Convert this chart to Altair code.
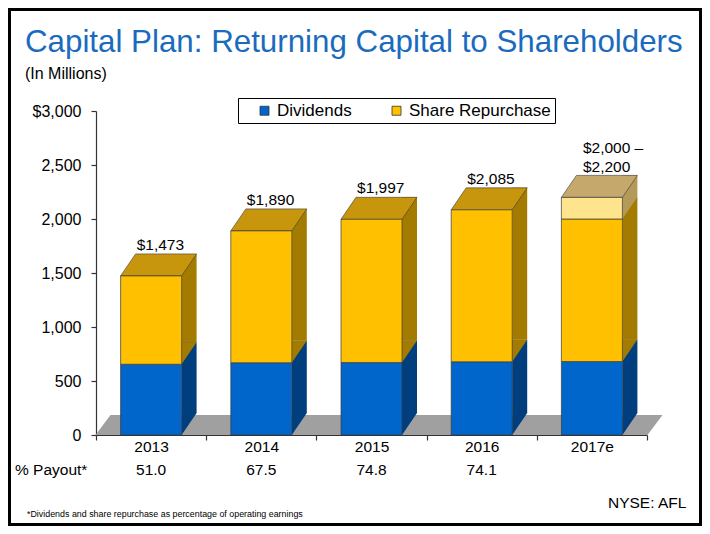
import altair as alt
import pandas as pd

# ---------------- data ----------------
years = ["2013", "2014", "2015", "2016", "2017e"]
series = ["Dividends", "Share Repurchase", "Range"]
dividends = [655, 669, 671, 678, 680]
repurchase = [818, 1221, 1326, 1407, 1320]
range_extra = [0, 0, 0, 0, 200]
total_labels = ["$1,473", "$1,890", "$1,997", "$2,085", ""]
estimate_label_lines = ["$2,000 –", "$2,200"]
payout = ["51.0", "67.5", "74.8", "74.1", ""]
y_tick_values = [0, 500, 1000, 1500, 2000, 2500, 3000]
y_tick_labels = ["0", "500", "1,000", "1,500", "2,000", "2,500", "$3,000"]
legend_items = ["Dividends", "Share Repurchase"]

title_text = "Capital Plan: Returning Capital to Shareholders"
subtitle_text = "(In Millions)"
payout_title = "% Payout*"
footnote_text = "*Dividends and share repurchase as percentage of operating earnings"
ticker_text = "NYSE: AFL"

# ---------------- styles ----------------
FONT = "Liberation Sans"
FRONT = {"Dividends": "#0066CC", "Share Repurchase": "#FFC000", "Range": "#FFE48E"}
SIDE = {"Dividends": "#003E7E", "Share Repurchase": "#A37B00", "Range": "#B39A58"}
TOP = {"Dividends": "#1F5FA8", "Share Repurchase": "#C8960C", "Range": "#C4A86C"}
TITLE_BLUE = "#1A6BBE"
AXIS_COL = "#333333"

W, H = 551, 324
DX, DY = 15, 22          # depth of the 3D bars (px)
FRONT_W = 61
FDX, FDY = 15, 20        # depth of the floor (px)
BAND = W / len(years)

half = FRONT_W / 2
TOP_PATH = f"M{-half},0L{half},0L{half + DX},{-DY}L{-half + DX},{-DY}Z"
TRI_PATH = f"M{half},{-DY}L{half},0L{half + DX},{-DY}Z"
hb = BAND / 2 + 0.5
FLOOR_PATH = f"M{-hb},0L{hb},0L{hb + FDX},{-FDY}L{-hb + FDX},{-FDY}Z"

# ---------------- tables ----------------
seg_rows, top_rows = [], []
for i, yr in enumerate(years):
    base = 0
    last = None
    for s, vals in zip(series, [dividends, repurchase, range_extra]):
        v = vals[i]
        if v <= 0:
            continue
        seg_rows.append(dict(year=yr, series=s, bottom=base, top=base + v, side=SIDE[s]))
        base += v
        last = s
    top_rows.append(dict(year=yr, total=base, topcol=TOP[last], label=total_labels[i]))
seg = pd.DataFrame(seg_rows)
tops = pd.DataFrame(top_rows)
year_df = pd.DataFrame({"year": years, "payout": payout, "zero": [0] * len(years)})
est_df = pd.DataFrame({"year": [years[-1]], "total": [tops["total"].iloc[-1]]})
meta = pd.DataFrame({"k": [0]})

label_expr = " : ".join(
    f"datum.value == {v} ? '{l}'" for v, l in zip(y_tick_values, y_tick_labels)
) + " : ''"

xs = alt.Scale(domain=years, paddingInner=0, paddingOuter=0)
ys = alt.Scale(domain=[0, 3000], nice=False, zero=True)
x_axis = alt.Axis(title=None, labelAngle=0, tickBand="extent", labelFontSize=15.5,
                  labelFont=FONT, labelColor="black", labelPadding=-1, tickSize=5,
                  domainColor=AXIS_COL, tickColor=AXIS_COL, domainWidth=1.2, tickWidth=1.2,
                  grid=False)
y_axis = alt.Axis(title=None, values=y_tick_values, labelExpr=label_expr, grid=False,
                  tickSize=5, labelPadding=10, labelFontSize=16, labelFont=FONT,
                  labelColor="black", domainColor=AXIS_COL, tickColor=AXIS_COL,
                  domainWidth=1.2, tickWidth=1.2)
X = alt.X("year:N", scale=xs, sort=years, axis=x_axis)


def Y(field):
    return alt.Y(field, scale=ys, axis=y_axis)


# ---------------- layers ----------------
border = alt.Chart(meta).mark_rect(color="white", fillOpacity=0, stroke="black", strokeWidth=3).encode(
    x=alt.value(-86.5), x2=alt.value(604.5), y=alt.value(-101.5), y2=alt.value(413.5)
)

floor = alt.Chart(year_df).mark_point(
    shape=FLOOR_PATH, size=4, filled=True, opacity=1, color="#A0A0A0", strokeWidth=0
).encode(x=X, y=Y("zero:Q"))

side = alt.Chart(seg).mark_bar(width=DX, xOffset=half + DX / 2, yOffset=-DY, y2Offset=-DY).encode(
    x=X, y=Y("top:Q"), y2="bottom:Q",
    color=alt.Color("side:N", scale=None),
)

tri = alt.Chart(seg).mark_point(shape=TRI_PATH, size=4, filled=True, opacity=1, strokeWidth=0).encode(
    x=X, y=Y("bottom:Q"), color=alt.Color("side:N", scale=None)
)

topface = alt.Chart(tops).mark_point(
    shape=TOP_PATH, size=4, filled=True, opacity=1, stroke="#3a3a3a", strokeWidth=0.6
).encode(x=X, y=Y("total:Q"), fill=alt.Fill("topcol:N", scale=None))

front = alt.Chart(seg).mark_bar(width=FRONT_W, stroke="#3a3a3a", strokeWidth=0.7, opacity=1).encode(
    x=X,
    y=Y("top:Q"),
    y2="bottom:Q",
    color=alt.Color(
        "series:N",
        scale=alt.Scale(domain=series, range=[FRONT[s] for s in series]),
        legend=alt.Legend(
            values=legend_items, title=None, orient="none", legendX=142, legendY=-13,
            direction="horizontal", labelFontSize=17, labelFont=FONT, labelColor="black",
            symbolType="square", symbolSize=81, symbolStrokeColor="#333333",
            symbolStrokeWidth=0.8, symbolOpacity=1, strokeColor="black", fillColor="white",
            padding=4, columnPadding=22, labelOffset=4, symbolOffset=14,
            labelExpr="datum.label == 'Share Repurchase' ? 'Share Repurchase\u00a0' : datum.label",
        ),
    ),
    order=alt.Order("bottom:Q"),
)

val_labels = alt.Chart(tops[tops["label"] != ""]).mark_text(
    dx=half / 2 - 6, dy=-26, fontSize=15.5, font=FONT, color="black", baseline="alphabetic"
).encode(x=X, y=Y("total:Q"), text="label:N")

est1 = alt.Chart(est_df).mark_text(
    text=estimate_label_lines[0], align="left", dx=-9, dy=-44, fontSize=15.5, font=FONT,
    color="black", baseline="alphabetic"
).encode(x=X, y=Y("total:Q"))
est2 = alt.Chart(est_df).mark_text(
    text=estimate_label_lines[1], align="left", dx=-9, dy=-25, fontSize=15.5, font=FONT,
    color="black", baseline="alphabetic"
).encode(x=X, y=Y("total:Q"))

payout_vals = alt.Chart(year_df[year_df["payout"] != ""]).mark_text(
    fontSize=15.5, font=FONT, color="black", baseline="alphabetic"
).encode(x=X, y=alt.value(364), text="payout:N")


def static_text(txt, x, y, size, color="black", align="left"):
    return alt.Chart(meta).mark_text(
        text=txt, align=align, baseline="alphabetic", fontSize=size, font=FONT, color=color
    ).encode(x=alt.value(x), y=alt.value(y))


title = static_text(title_text, -71, -59, 31.3, TITLE_BLUE)
subtitle = static_text(subtitle_text, -71, -32, 16)
payout_lbl = static_text(payout_title, -81, 364, 15.5)
footnote = static_text(footnote_text, -69, 406, 8.9)
ticker = static_text(ticker_text, 512, 397, 15.5)

chart = alt.layer(
    border, floor, side, tri, topface, front, val_labels, est1, est2,
    payout_vals, title, subtitle, payout_lbl, footnote, ticker,
).properties(
    width=W, height=H,
    padding={"left": 88, "top": 103, "right": 55, "bottom": 91},
    autosize=alt.AutoSizeParams(type="none"),
    background="white",
).configure(font=FONT).configure_view(strokeWidth=0)

chart.save("out.html", embed_options={"renderer": "svg", "actions": False})
